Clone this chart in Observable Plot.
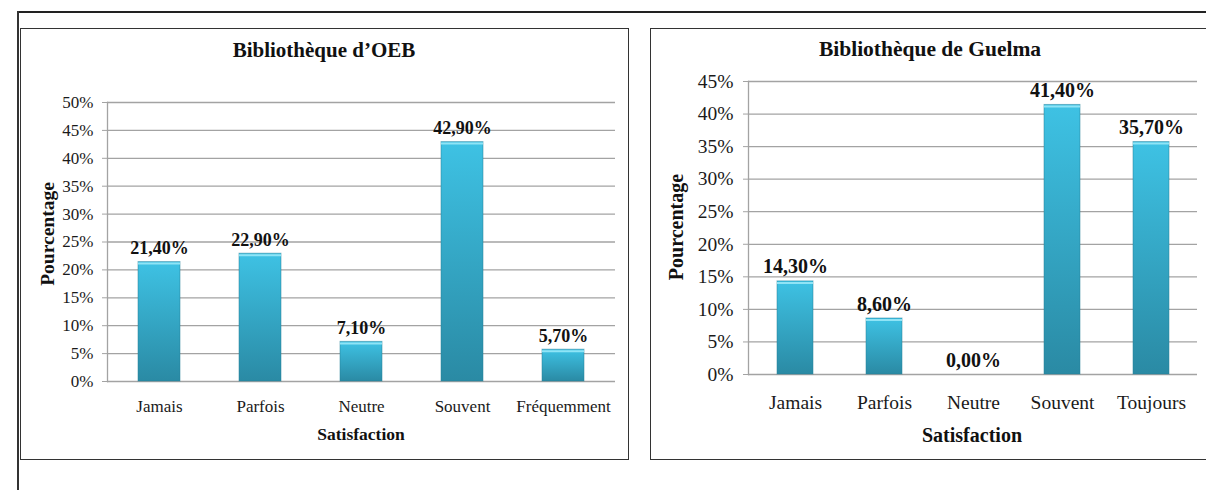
<!DOCTYPE html>
<html>
<head>
<meta charset="utf-8">
<script src="https://cdn.jsdelivr.net/npm/d3@7"></script>
<script src="https://cdn.jsdelivr.net/npm/@observablehq/plot@0.6"></script>
<style>
  html, body { margin: 0; padding: 0; background: #fff; }
  #page { position: relative; width: 1206px; height: 490px; overflow: hidden; background: #fff; font-family: "Liberation Serif", "Times New Roman", serif; color: #111; }
  .abs { position: absolute; }
  .lbl { position: absolute; white-space: nowrap; line-height: 1; font-weight: bold; transform: translate(-50%, -50%); }
  .rot { transform: translate(-50%, -50%) rotate(-90deg); }
</style>
</head>
<body>
<div id="page">
  <svg width="0" height="0" style="position:absolute">
    <defs>
      <linearGradient id="barGrad" x1="0" y1="0" x2="0" y2="1">
        <stop offset="0%" stop-color="#3ec2e4"/>
        <stop offset="100%" stop-color="#2a8aa4"/>
      </linearGradient>
    </defs>
  </svg>
  <div class="abs" style="left:17px;top:11px;width:1189px;height:0;border-top:2px solid #222"></div>
  <div class="abs" style="left:17px;top:11px;width:0;height:479px;border-left:2px solid #333"></div>
  <div class="abs" style="left:20px;top:28px;width:607px;height:430px;border:1.5px solid #333"></div>
  <div class="abs" style="left:650px;top:28px;width:600px;height:430px;border:1.5px solid #333"></div>
  <div id="left" class="abs" style="left:20px;top:28px"></div>
  <div id="right" class="abs" style="left:650px;top:28px"></div>
  <div class="lbl" style="left:324px;top:50px;font-size:21px">Bibliothèque d’OEB</div>
  <div class="lbl rot" style="left:48px;top:234px;font-size:19.5px">Pourcentage</div>
  <div class="lbl" style="left:361px;top:435px;font-size:17.5px">Satisfaction</div>
  <div class="lbl" style="left:930px;top:50px;font-size:21.5px">Bibliothèque de Guelma</div>
  <div class="lbl rot" style="left:676px;top:227px;font-size:20px">Pourcentage</div>
  <div class="lbl" style="left:972px;top:435px;font-size:20px">Satisfaction</div>
</div>
<script>
const catsOEB = ["Jamais", "Parfois", "Neutre", "Souvent", "Fréquemment"];
const valsOEB = [21.4, 22.9, 7.1, 42.9, 5.7];
const ticksOEB = [0, 5, 10, 15, 20, 25, 30, 35, 40, 45, 50];

const catsGuelma = ["Jamais", "Parfois", "Neutre", "Souvent", "Toujours"];
const valsGuelma = [14.3, 8.6, 0, 41.4, 35.7];
const ticksGuelma = [0, 5, 10, 15, 20, 25, 30, 35, 40, 45];

const fmtVal = v => v.toFixed(2).replace(".", ",") + "%";
const serif = "'Liberation Serif', 'Times New Roman', serif";

function chart(o) {
  const data = o.cats.map((c, i) => ({cat: c, val: o.vals[i]}));
  return Plot.plot({
    width: o.width, height: o.height,
    marginLeft: o.ml, marginRight: o.mr, marginTop: o.mt, marginBottom: o.mb,
    style: {fontFamily: serif, fontSize: o.fs + "px", color: "#1a1a1a", background: "transparent", overflow: "visible"},
    x: {domain: o.cats, paddingInner: o.padding, paddingOuter: o.padding / 2, axis: null},
    y: {domain: [0, o.ticks[o.ticks.length - 1]], axis: null},
    marks: [
      Plot.ruleY(o.ticks, {stroke: "#a3a3a3", strokeWidth: 1.3}),
      Plot.axisY({ticks: o.ticks, tickSize: 5, tickPadding: o.yPad, tickFormat: d => d + "%", stroke: "#a3a3a3", fill: "#1a1a1a", fontSize: o.fs, fontFamily: serif, label: null}),
      Plot.frame({anchor: "left", stroke: "#a3a3a3", strokeWidth: 1.3}),
      Plot.axisX({tickSize: 0, tickPadding: o.xPad, fontSize: o.fsX, fontFamily: serif, fill: "#1a1a1a", label: null}),
      Plot.barY(data, {x: "cat", y: "val", fill: "url(#barGrad)", stroke: "#26809a", strokeOpacity: 0.5, strokeWidth: 1}),
      Plot.tickY(data.filter(d => d.val > 0), {x: "cat", y: "val", stroke: "#8fe4f6", strokeWidth: 2, dy: 1.5}),
      Plot.text(data, {x: "cat", y: "val", text: d => fmtVal(d.val), lineAnchor: "bottom", dy: -8, fontWeight: "bold", fontSize: o.fsL, fontFamily: serif, fill: "#111"})
    ]
  });
}

document.getElementById("left").append(chart({
  cats: catsOEB, vals: valsOEB, ticks: ticksOEB,
  width: 609, height: 432, ml: 87, mr: 14, mt: 74, mb: 79,
  padding: 0.585, fs: 17, fsX: 17, fsL: 18, yPad: 9, xPad: 18
}));

document.getElementById("right").append(chart({
  cats: catsGuelma, vals: valsGuelma, ticks: ticksGuelma,
  width: 556, height: 432, ml: 98, mr: 9, mt: 53, mb: 86,
  padding: 0.6, fs: 19.5, fsX: 19.5, fsL: 20, yPad: 10, xPad: 21
}));
</script>
</body>
</html>
